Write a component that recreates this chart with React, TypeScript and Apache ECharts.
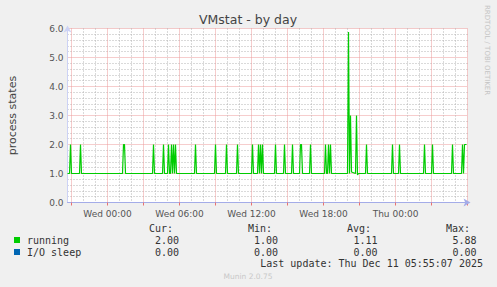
import React, { useEffect, useRef } from 'react';
import * as echarts from 'echarts';

// Time axis: 5-minute samples, minutes relative to Wed 00:00 (start Tue 20:40, end Thu 06:00)
const startMinute = -200;
const stepMinutes = 5;
const categoryCount = 401;
const xCategories: string[] = Array.from({ length: categoryCount }, (_, i) => String(startMinute + i * stepMinutes));

const xTickMinutes = [0, 360, 720, 1080, 1440];
const xTickLabels = ['Wed 00:00', 'Wed 06:00', 'Wed 12:00', 'Wed 18:00', 'Thu 00:00'];

// running: vertices [sampleIndex, value]
const runningPoints: [number, number][] = [
  [0, 1], [2, 1], [3, 2], [4, 1], [12, 1], [13, 2], [14, 1],
  [55, 1], [56, 2], [57, 2], [58, 1], [85, 1], [86, 2], [87, 1],
  [95, 1], [96, 2], [97, 1], [100, 1], [101, 2], [102, 1], [103, 1], [104, 2], [105, 1],
  [106, 2], [107, 1], [108, 2], [109, 1],
  [127, 1], [128, 2], [129, 1], [147, 1], [148, 2], [149, 1], [158, 1], [159, 2], [160, 1],
  [169, 1], [170, 2], [171, 1], [184, 1], [185, 2], [186, 1],
  [190, 1], [191, 2], [192, 1], [193, 2], [194, 1], [195, 2], [196, 1],
  [207, 1], [208, 2], [209, 1], [216, 1], [217, 2], [218, 1], [224, 1], [225, 2], [226, 1],
  [232, 1], [233, 2], [234, 2], [235, 1], [242, 1], [243, 2], [244, 1],
  [257, 1], [258, 2], [259, 1], [260, 1], [261, 2], [262, 1], [263, 2], [264, 1],
  [280, 1], [281, 5.88], [282, 1], [283, 3], [284, 1.05], [288, 1], [289, 3], [290, 0.95], [291, 1],
  [298, 1], [299, 2], [300, 1], [324, 1], [325, 2], [326, 1], [331, 1], [332, 2], [333, 1],
  [356, 1], [357, 2], [358, 1], [364, 1], [365, 2], [366, 1], [384, 1], [385, 2], [386, 1],
  [394, 1], [395, 2], [396, 1], [397, 2], [399, 2],
];

const yTickValues = [0, 1, 2, 3, 4, 5, 6];

const legendNames = ['running', 'I/O sleep'];
const legendColors = ['#00cc00', '#0066b3'];
const curValues = ['2.00', '0.00'];
const minValues = ['1.00', '0.00'];
const avgValues = ['1.11', '0.00'];
const maxValues = ['5.88', '0.00'];
const statHeaders = ['Cur:', 'Min:', 'Avg:', 'Max:'];

const titleText = 'VMstat - by day';
const yAxisName = 'process states';
const lastUpdate = 'Last update: Thu Dec 11 05:55:07 2025';
const footer = 'Munin 2.0.75';
const sideText = 'RRDTOOL / TOBI OETIKER';

const SANS = "'DejaVu Sans', sans-serif";
const MONO = "'DejaVu Sans Mono', monospace";

const isMajor = (_i: number, v: string) => Number(v) % 180 === 0;
const isMinor = (_i: number, v: string) => Number(v) % 60 === 0 && Number(v) % 180 !== 0;
const isLabel = (_i: number, v: string) => xTickMinutes.indexOf(Number(v)) >= 0;

const RED = '#ec9a9a';
const GREY = '#b4b4b4';

export default function App() {
  const ref = useRef<HTMLDivElement>(null);
  useEffect(() => {
    if (!ref.current) return;
    const chart = echarts.init(ref.current, undefined, { renderer: 'svg' });

    const headerRight = [173, 272, 371, 470];
    const valueRight = [179, 278, 377.5, 476.5];
    const rowY = [240, 252];
    const graphics: any[] = [];
    graphics.push({ type: 'text', x: 248, y: 19.5, style: { text: titleText, fontFamily: SANS, fontSize: 12.5, fill: '#444', textAlign: 'center', textVerticalAlign: 'middle' } });
    graphics.push({ type: 'text', x: 12, y: 115.5, rotation: Math.PI / 2, style: { text: yAxisName, fontFamily: SANS, fontSize: 11, fill: '#444', textAlign: 'center', textVerticalAlign: 'middle' } });
    graphics.push({ type: 'text', x: 487, y: 5, rotation: -Math.PI / 2, style: { text: sideText, fontFamily: SANS, fontSize: 7, fill: '#c4c4c4', textAlign: 'left', textVerticalAlign: 'middle' } });
    statHeaders.forEach((h, k) => {
      graphics.push({ type: 'text', x: headerRight[k], y: 228, style: { text: h, fontFamily: MONO, fontSize: 10, fill: '#333', textAlign: 'right', textVerticalAlign: 'middle' } });
    });
    legendNames.forEach((name, r) => {
      graphics.push({ type: 'rect', shape: { x: 14, y: rowY[r] - 3, width: 6, height: 6 }, style: { fill: legendColors[r] } });
      graphics.push({ type: 'text', x: 27, y: rowY[r], style: { text: name, fontFamily: MONO, fontSize: 10, fill: '#333', textAlign: 'left', textVerticalAlign: 'middle' } });
      [curValues, minValues, avgValues, maxValues].forEach((arr, k) => {
        graphics.push({ type: 'text', x: valueRight[k], y: rowY[r], style: { text: arr[r], fontFamily: MONO, fontSize: 10, fill: '#333', textAlign: 'right', textVerticalAlign: 'middle' } });
      });
    });
    graphics.push({ type: 'text', x: 483, y: 263.5, style: { text: lastUpdate, fontFamily: MONO, fontSize: 10, fill: '#333', textAlign: 'right', textVerticalAlign: 'middle' } });
    graphics.push({ type: 'text', x: 248, y: 276, style: { text: footer, fontFamily: SANS, fontSize: 7.5, fill: '#c8c8c8', textAlign: 'center', textVerticalAlign: 'middle' } });

    chart.setOption({
      animation: false,
      backgroundColor: '#f0f0f0',
      grid: { left: 67.5, top: 28.5, width: 400, height: 174, show: true, backgroundColor: '#ffffff', borderWidth: 0 },
      xAxis: [
        {
          type: 'category', data: xCategories, boundaryGap: false, position: 'bottom',
          axisLine: { show: true, lineStyle: { color: '#a4ace8', width: 1 }, symbol: ['none', 'arrow'], symbolSize: [6, 7], symbolOffset: [0, 3] },
          axisTick: { show: true, interval: isMajor, length: 3, lineStyle: { color: '#e87070' } },
          axisLabel: {
            show: true, interval: isLabel, color: '#555', fontSize: 9, fontFamily: SANS, margin: 7,
            formatter: (v: string) => { const k = xTickMinutes.indexOf(Number(v)); return k >= 0 ? xTickLabels[k] : ''; },
          },
          splitLine: { show: true, interval: isMajor, lineStyle: { color: RED, type: [1, 1] } },
          z: 3,
        },
        {
          type: 'category', data: xCategories, boundaryGap: false, position: 'bottom',
          axisLine: { show: false }, axisTick: { show: false }, axisLabel: { show: false },
          splitLine: { show: true, interval: isMinor, lineStyle: { color: GREY, type: [1, 2] } },
        },
      ],
      yAxis: {
        type: 'value', min: yTickValues[0], max: yTickValues[yTickValues.length - 1], interval: 1,
        axisLine: { show: true, lineStyle: { color: '#ccd2f5', width: 1 }, symbol: ['none', 'arrow'], symbolSize: [6, 7], symbolOffset: [0, 3] },
        axisTick: { show: false },
        axisLabel: { color: '#555', fontSize: 9, fontFamily: SANS, margin: 4, formatter: (v: number) => v.toFixed(1) },
        splitLine: { show: true, lineStyle: { color: RED, type: [1, 1] } },
        minorTick: { show: false, splitNumber: 5 },
        minorSplitLine: { show: true, lineStyle: { color: GREY, type: [1, 2] } },
      },
      series: [
        {
          name: legendNames[0], type: 'line', xAxisIndex: 0, data: runningPoints,
          symbol: 'none', showSymbol: false, lineStyle: { color: legendColors[0], width: 1.2 },
          itemStyle: { color: legendColors[0] }, z: 5,
        },
      ],
      graphic: graphics,
    });
    return () => chart.dispose();
  }, []);
  return <div ref={ref} style={{ position: 'absolute', left: 0, top: 0, width: 497, height: 287 }} />;
}
